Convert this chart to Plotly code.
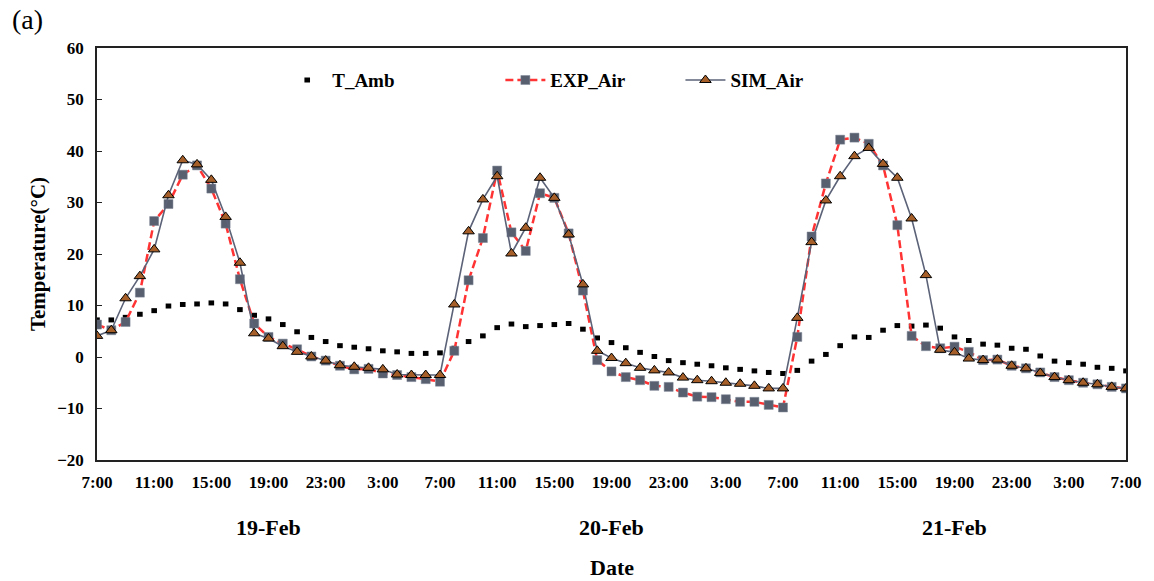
import plotly.graph_objects as go

# hours since 19-Feb 7:00
hours = list(range(73))

t_amb = [7.2, 7.2, 7.7, 8.3, 9.0, 9.9, 10.2, 10.3, 10.5, 10.3, 9.2, 8.1, 7.4, 6.3, 4.9, 3.8, 3.0,
         2.2, 1.9, 1.6, 1.2, 1.0, 0.7, 0.7, 0.8, 1.7, 3.0, 4.1, 5.7, 6.4, 5.9, 6.1, 6.3, 6.5, 5.4,
         3.7, 2.8, 1.8, 0.9, 0.1, -0.7, -1.1, -1.4, -1.7, -2.1, -2.4, -2.7, -3.0, -3.2, -2.6, -0.8,
         0.5, 2.2, 3.9, 3.8, 5.2, 6.1, 6.0, 6.2, 5.6, 3.9, 3.2, 2.5, 2.3, 1.7, 1.5, 0.2, -0.8, -1.1,
         -1.4, -2.0, -2.2, -2.7]

exp_air = [6.3, 5.2, 6.8, 12.5, 26.4, 29.7, 35.4, 37.2, 32.7, 25.9, 15.1, 6.5, 3.9, 2.6, 1.5, 0.1,
           -0.7, -1.7, -2.4, -2.3, -3.2, -3.5, -3.9, -4.3, -4.8, 1.2, 14.9, 23.1, 36.2, 24.2, 20.6,
           31.8, 30.9, 24.0, 12.9, -0.6, -2.8, -3.9, -4.5, -5.6, -5.8, -6.9, -7.7, -7.8, -8.2, -8.7,
           -8.7, -9.3, -9.8, 3.9, 23.4, 33.7, 42.2, 42.6, 41.4, 37.2, 25.6, 4.1, 2.1, 1.7, 2.0, 1.0,
           -0.6, -0.5, -1.7, -2.2, -3.0, -3.9, -4.5, -5.0, -5.3, -5.8, -6.1]

sim_air = [4.1, 5.2, 11.4, 15.7, 20.9, 31.4, 38.2, 37.4, 34.4, 27.2, 18.3, 4.6, 3.6, 2.1, 1.0, 0.1,
           -0.7, -1.6, -1.9, -2.1, -2.4, -3.4, -3.5, -3.5, -3.5, 10.2, 24.4, 30.6, 35.1, 20.1, 25.1,
           34.8, 30.9, 23.8, 14.1, 1.2, -0.2, -1.2, -2.1, -2.6, -3.0, -4.0, -4.5, -4.7, -5.0, -5.2,
           -5.6, -6.1, -6.1, 7.6, 22.3, 30.4, 35.1, 39.0, 40.6, 37.5, 34.8, 26.9, 15.9, 1.4, 0.9,
           -0.3, -0.6, -0.5, -1.7, -2.2, -3.1, -3.9, -4.5, -5.0, -5.3, -5.8, -6.1]

tick_vals = list(range(0, 73, 4))
tick_text = ["7:00", "11:00", "15:00", "19:00", "23:00", "3:00"] * 3 + ["7:00"]
date_labels = ["19-Feb", "20-Feb", "21-Feb"]
date_pos = [12, 36, 60]

FONT = "Liberation Serif"

fig = go.Figure()
fig.add_trace(go.Scatter(
    x=hours, y=t_amb, name="<b>T_Amb</b>", mode="markers", showlegend=True,
    marker=dict(symbol="line-ew", size=4, color="black", line=dict(color="black", width=5)),
    legend="legend"))
fig.add_trace(go.Scatter(
    x=hours, y=exp_air, name="<b>EXP_Air</b>", mode="lines+markers", showlegend=True,
    line=dict(color="#FF3333", width=2.5, dash="8px,4px"),
    marker=dict(symbol="square", size=9, color="#58606F", line=dict(color="#7C8594", width=0.5)),
    legend="legend2"))
fig.add_trace(go.Scatter(
    x=hours, y=sim_air, name="<b>SIM_Air</b>", mode="lines+markers", showlegend=True,
    line=dict(color="#5C6378", width=1.6),
    marker=dict(symbol="triangle-up", size=10, color="#A65F28", line=dict(color="black", width=1)),
    legend="legend3"))

annotations = []
for lbl, pos in zip(date_labels, date_pos):
    annotations.append(dict(x=pos, y=-0.163, xref="x", yref="paper", text="<b>%s</b>" % lbl,
                            showarrow=False, font=dict(family=FONT, size=22, color="black"),
                            xanchor="center", yanchor="middle"))
annotations.append(dict(x=0.5, y=-0.26, xref="paper", yref="paper", text="<b>Date</b>",
                        showarrow=False, font=dict(family=FONT, size=22, color="black"),
                        xanchor="center", yanchor="middle"))
annotations.append(dict(x=-0.085, y=1.068, xref="paper", yref="paper", text="(a)",
                        showarrow=False, font=dict(family=FONT, size=28, color="black"),
                        xanchor="left", yanchor="middle"))

leg_common = dict(orientation="h", yanchor="middle", y=0.922, xanchor="left", itemwidth=40,
                  bgcolor="rgba(0,0,0,0)", font=dict(family=FONT, size=19, color="black"))

fig.update_layout(
    width=1154, height=581,
    margin=dict(l=97, r=24, t=48, b=121),
    paper_bgcolor="white", plot_bgcolor="white",
    showlegend=True,
    font=dict(family=FONT, size=17, color="black"),
    legend=dict(x=0.180, **leg_common),
    legend2=dict(x=0.392, **leg_common),
    legend3=dict(x=0.567, **leg_common),
    annotations=annotations,
    xaxis=dict(range=[0, 72], tickvals=tick_vals, ticktext=tick_text, showgrid=False,
               zeroline=False, showline=True, linecolor="#222", linewidth=1.5, mirror=True,
               ticks="", tickfont=dict(family=FONT, size=17, color="black", weight="bold"),
               ticklabelstandoff=6),
    yaxis=dict(range=[-20, 60], dtick=10, showgrid=False, zeroline=False, showline=True,
               linecolor="#222", linewidth=1.5, mirror=True, ticks="inside", ticklen=5,
               tickcolor="#222", tickfont=dict(family=FONT, size=17, color="black", weight="bold"),
               ticklabelstandoff=8,
               title=dict(text="<b>Temperature(°C)</b>", font=dict(family=FONT, size=21),
                          standoff=6)),
)

fig.write_html("out.html")
